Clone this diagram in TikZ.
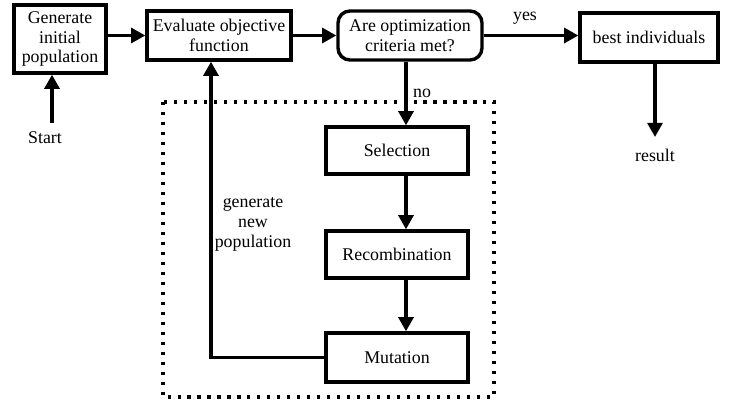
\documentclass[tikz,border=0pt]{standalone}
\usepackage{fontspec}
\setmainfont{Liberation Serif}
\usetikzlibrary{arrows.meta}

\begin{document}
\begin{tikzpicture}[x=0.025cm, y=-0.025cm,
    every node/.append style={font=\fontsize{12.7}{14.2}\selectfont, align=center},
    box/.style={draw, line width=2.4pt, inner sep=0pt, minimum height=1.2cm},
    flow/.style={line width=2.4pt, -{Triangle[length=10pt,width=10.5pt]}}]
    \useasboundingbox (0,0) rectangle (731,401);

    % loop region
    \draw[line width=2.2pt, dash pattern=on 2.2pt off 4.9pt] (163,102) rectangle (494,397);

    \node[box, minimum width=2.3cm, minimum height=1.7cm] (gen_name) at (60,39) {Generate\\initial\\population};
    \node[box, minimum width=3.6cm, minimum height=1.225cm] (eval_name) at (219,35.5) {Evaluate objective\\function};
    \node[box, rounded corners=0.3cm, minimum width=3.6cm, minimum height=1.225cm] (crit_name) at (410,35.5) {Are optimization\\criteria met?};
    \node[box, minimum width=3.45cm, minimum height=1.225cm] (best_name) at (649,37.5) {best individuals};
    \node[box, minimum width=3.55cm, minimum height=1.175cm] (sel_name) at (397,150.5) {Selection};
    \node[box, minimum width=3.55cm, minimum height=1.175cm] (recomb_name) at (397,254.5) {Recombination};
    \node[box, minimum width=3.55cm, minimum height=1.225cm] (mut_name) at (397,357.5) {Mutation};

    \node (start_name) at (45,138) {Start};
    \node (result_name) at (655,155) {result};
    \node (yes_name) at (525,18) {yes};
    \node (no_name) at (422,93) {no};
    \node (new_name) at (253,224) {generate\\new\\population};

    \coordinate (start_tail) at (52,123);
    \coordinate (result_tip) at (655,137);
    \coordinate (col) at (406,0);
    \coordinate (back) at (211,0);

    \path[flow]
        (gen_name.east |- eval_name) edge (eval_name.west)
        (eval_name) edge (crit_name)
        (crit_name.east) edge (crit_name.east -| best_name.west)
        (crit_name.south -| col) edge (sel_name.north -| col)
        (sel_name.south -| col) edge (recomb_name.north -| col)
        (recomb_name.south -| col) edge (mut_name.north -| col)
        (start_tail) edge (start_tail |- gen_name.south)
        (result_tip |- best_name.south) edge (result_tip);
    \draw[flow] (mut_name.west) -| (eval_name.south -| back);
\end{tikzpicture}
\end{document}
